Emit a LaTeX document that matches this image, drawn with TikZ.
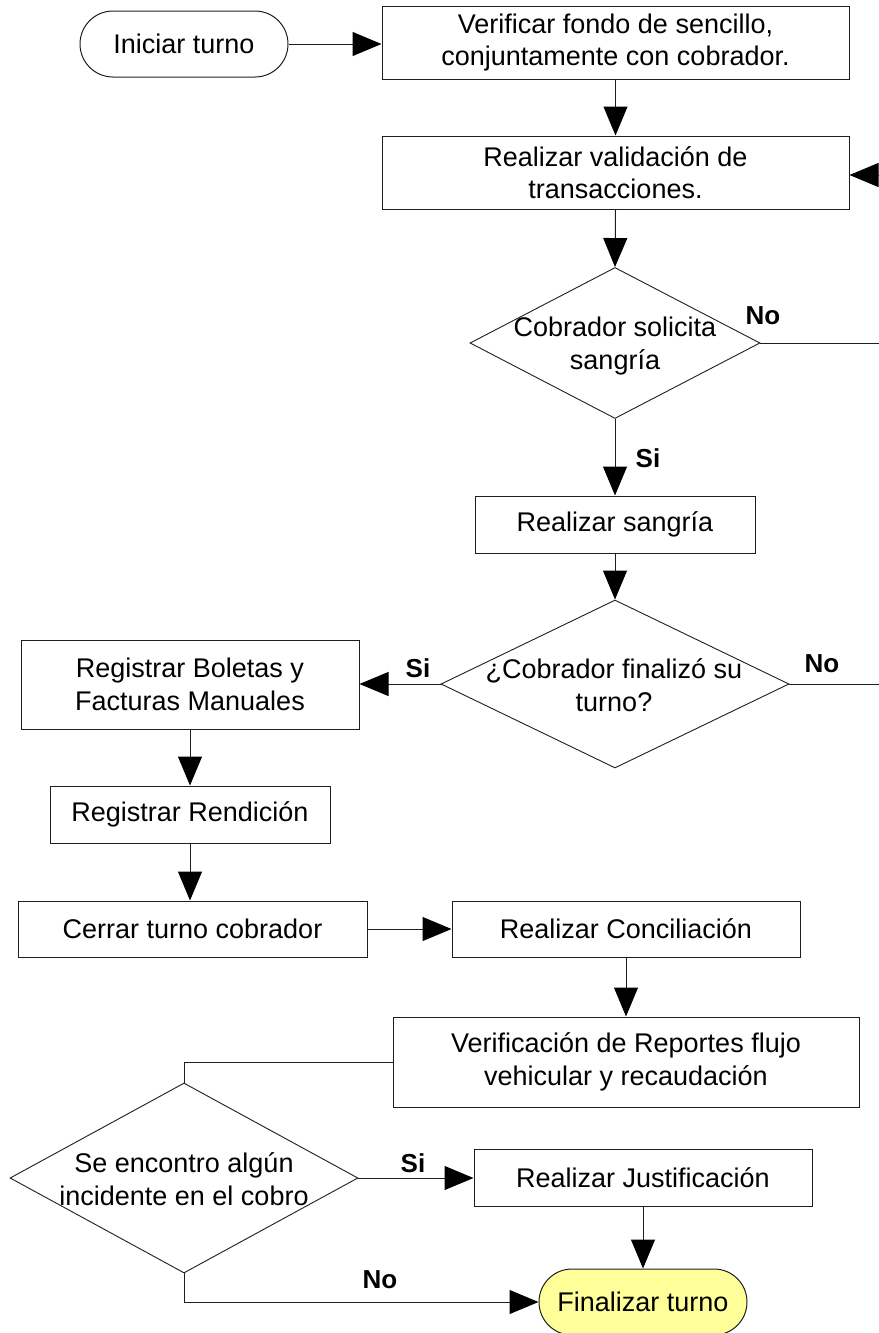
\documentclass[tikz,border=0pt]{standalone}
\usepackage{fontspec}
\setmainfont{Liberation Sans}
\usetikzlibrary{shapes.geometric,arrows.meta}
\definecolor{termyellow}{RGB}{255,255,153}
\definecolor{linegray}{RGB}{30,30,30}
\begin{document}
\begin{tikzpicture}[x=1pt,y=-1pt,
  every node/.style={font=\fontsize{27}{32.5}\selectfont, align=center, inner sep=0pt},
  stepbox/.style={draw=linegray, line width=1pt, rectangle, fill=white},
  term/.style={draw=linegray, line width=1pt, rectangle, rounded corners=33pt, minimum width=208pt, minimum height=66pt},
  dec/.style={draw=linegray, line width=0.9pt, diamond, inner sep=0pt},
  conn/.style={draw=linegray, line width=1pt},
  arr/.style={conn, -{Triangle[length=29pt,width=24pt,fill=black,color=black]}},
  lbl/.style={font=\fontsize{26}{30}\selectfont\bfseries}
]
\useasboundingbox (0,0) rectangle (878,1333);

% nodes
\node[term] (ini) at (184,44) {Iniciar turno};
\node[stepbox, minimum width=467pt, minimum height=73pt] (ver) at (615.5,42.5) {Verificar fondo de sencillo,\\conjuntamente con cobrador.};
\node[stepbox, minimum width=467pt, minimum height=73pt] (val) at (615.5,172.5) {Realizar validación de\\transacciones.};
\node[dec, minimum width=290pt, minimum height=151pt] (d1) at (615,343) {};
\node (d1t) at (615,346) {Cobrador solicita\\sangría};
\node[stepbox, minimum width=280pt, minimum height=57pt] (san) at (615,524.5) {Realizar sangría};
\node[dec, minimum width=348pt, minimum height=168pt] (d2) at (615,684) {};
\node (d2t) at (614,685) {¿Cobrador finalizó su\\turno?};
\node[stepbox, minimum width=338pt, minimum height=89pt] (bol) at (190,684.5) {Registrar Boletas y\\Facturas Manuales};
\node[stepbox, minimum width=280pt, minimum height=57pt] (ren) at (190,814.5) {Registrar Rendición};
\node[stepbox, minimum width=349pt, minimum height=56pt] (cer) at (192.5,929) {Cerrar turno cobrador};
\node[stepbox, minimum width=348pt, minimum height=56pt] (con) at (626,929) {Realizar Conciliación};
\node[stepbox, minimum width=466pt, minimum height=90pt] (vr) at (626,1062) {Verificación de Reportes flujo\\vehicular y recaudación};
\node[dec, minimum width=348pt, minimum height=190pt] (d3) at (184,1178) {};
\node (d3t) at (184,1179) {Se encontro algún\\incidente en el cobro};
\node[stepbox, minimum width=338pt, minimum height=57pt] (jus) at (643,1177.5) {Realizar Justificación};
\node[term, fill=termyellow] (fin) at (643,1302) {Finalizar turno};

% free ends at the right edge
\coordinate (r1) at (880,175);
\coordinate (r2) at (880,343);
\coordinate (r3) at (880,684);

% connectors
\draw[arr] (ini.east) -- (ver.west |- ini.east);
\draw[arr] (ver.south) -- (val.north);
\draw[arr] (r1) -- (val.east |- r1);
\draw[arr] (val.south) -- (d1.north);
\draw[conn] (d1.east) -- (r2);
\draw[arr] (d1.south) -- (san.north);
\draw[arr] (san.south) -- (d2.north);
\draw[conn] (d2.east) -- (r3);
\draw[arr] (d2.west) -- (bol.east |- d2.west);
\draw[arr] (bol.south) -- (ren.north);
\draw[arr] (ren.south) -- (ren.south |- cer.north);
\draw[arr] (cer.east) -- (con.west);
\draw[arr] (con.south) -- (vr.north);
\draw[conn] (vr.west) -| (d3.north);
\draw[arr] (d3.east) -- (jus.west |- d3.east);
\draw[arr] (jus.south) -- (fin.north);
\draw[arr] (d3.south) |- (fin.west);

% labels
\node[lbl] (lno1) at (763,316) {No};
\node[lbl] (lsi1) at (648,458) {Si};
\node[lbl] (lno2) at (822,664) {No};
\node[lbl] (lsi2) at (418,668) {Si};
\node[lbl] (lsi3) at (413,1163) {Si};
\node[lbl] (lno3) at (380,1280) {No};
\end{tikzpicture}
\end{document}
